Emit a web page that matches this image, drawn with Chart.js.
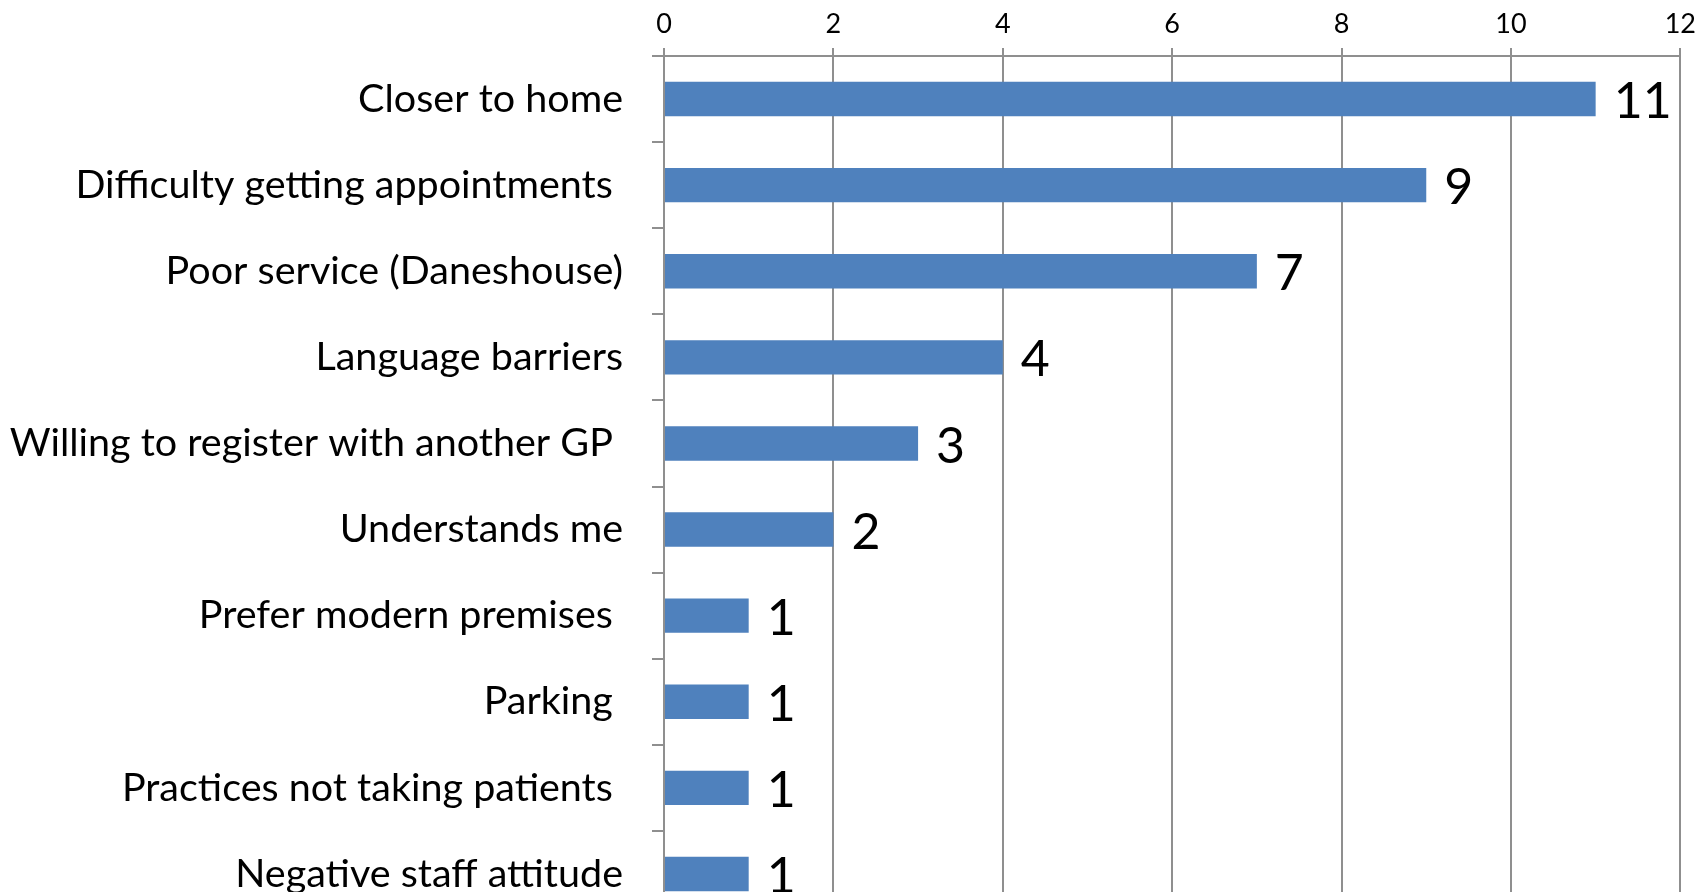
<!DOCTYPE html>
<html>
<head>
<meta charset="utf-8">
<script src="https://cdn.jsdelivr.net/npm/chart.js@4"></script>
<style>
  html, body { margin: 0; padding: 0; overflow: hidden; background: #fff; }
  canvas { display: block; }
</style>
</head>
<body>
<canvas id="myChart" width="1704" height="917"></canvas>
<script>
// reasons given (trailing spaces kept as in the original labels)
const reasons = [
    'Closer to home',
    'Difficulty getting appointments ',
    'Poor service (Daneshouse)',
    'Language barriers',
    'Willing to register with another GP ',
    'Understands me',
    'Prefer modern premises ',
    'Parking ',
    'Practices not taking patients ',
    'Negative staff attitude'
];
const counts = [11, 9, 7, 4, 3, 2, 1, 1, 1, 1];
const axisTicks = [0, 2, 4, 6, 8, 10, 12];

const gridGrey = '#8f8f8f';

// draws the number just right of each bar
const valueLabels = {
    id: 'valueLabels',
    afterDatasetsDraw(chart) {
        const ctx = chart.ctx;
        const meta = chart.getDatasetMeta(0);
        ctx.save();
        ctx.font = '50px Lato';
        ctx.fillStyle = '#000';
        ctx.textAlign = 'left';
        ctx.textBaseline = 'middle';
        meta.data.forEach((bar, i) => {
            ctx.fillText(String(counts[i]), bar.x + 18, bar.y + 3);
        });
        ctx.restore();
    }
};

const ctx = document.getElementById('myChart').getContext('2d');
new Chart(ctx, {
    type: 'bar',
    data: {
        labels: reasons,
        datasets: [
            {
                label: 'Reasons',
                backgroundColor: '#4F81BD',
                borderWidth: 0,
                data: counts,
                barPercentage: 0.4,
                categoryPercentage: 1
            }
        ]
    },
    options: {
        indexAxis: 'y',
        responsive: false,
        animation: false,
        layout: { padding: { left: 0, right: 17, top: 0, bottom: 0 } },
        plugins: {
            legend: { display: false },
            tooltip: { enabled: false }
        },
        scales: {
            x: {
                position: 'top',
                min: 0,
                max: 12,
                afterBuildTicks: scale => {
                    scale.ticks = axisTicks.map(v => ({ value: v }));
                },
                afterFit: scale => { scale.height = 56; },
                ticks: {
                    color: '#000',
                    font: { family: 'Lato', size: 27 },
                    padding: 8
                },
                grid: {
                    color: gridGrey,
                    lineWidth: 2,
                    tickLength: 8
                },
                border: { color: gridGrey, width: 2 }
            },
            y: {
                afterFit: scale => {
                    scale.width = 664;
                    // no extra room for half label heights, plot runs to the bottom edge
                    scale.paddingTop = 0;
                    scale.paddingBottom = 0;
                },
                ticks: {
                    color: '#000',
                    font: { family: 'Lato', size: 39.5 },
                    padding: 29,
                    autoSkip: false
                },
                grid: {
                    offset: true,
                    drawOnChartArea: false,
                    color: gridGrey,
                    lineWidth: 2,
                    tickLength: 12
                },
                border: { color: gridGrey, width: 2 }
            }
        }
    },
    plugins: [valueLabels]
});
</script>
</body>
</html>
